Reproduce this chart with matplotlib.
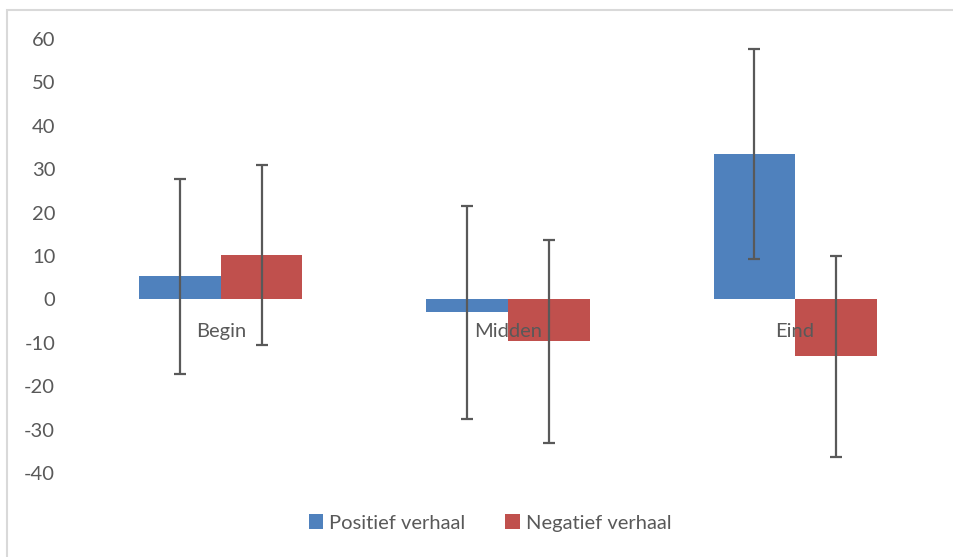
import matplotlib.pyplot as plt
import numpy as np
from matplotlib.patches import Rectangle

plt.rcParams['font.family'] = ['Lato', 'DejaVu Sans']
plt.rcParams['axes.unicode_minus'] = False

# data
categories = ['Begin', 'Midden', 'Eind']
positief = [5.3, -3.0, 33.6]
positief_err = [22.5, 24.5, 24.2]
negatief = [10.3, -9.7, -13.1]
negatief_err = [20.7, 23.3, 23.2]
series_names = ['Positief verhaal', 'Negatief verhaal']
yticks = [-40, -30, -20, -10, 0, 10, 20, 30, 40, 50, 60]

blue = '#4F81BD'
red = '#C0504D'
grey = '#595959'

fig = plt.figure(figsize=(9.54, 5.57), dpi=100)
ax = fig.add_axes([0.0812, 0.1508, 0.9026, 0.7792])

# chart border (partly outside the picture)
fig.patches.append(Rectangle((7 / 954, -0.1), 1.2, 1 - 10 / 557 + 0.1,
                             transform=fig.transFigure, fill=False,
                             edgecolor='#D9D9D9', linewidth=1.5))

x = np.arange(len(categories))
w = 0.284
ekw = dict(ecolor=grey, elinewidth=1.6, capsize=4.5, capthick=1.6)
ax.bar(x - w / 2, positief, w, color=blue, label=series_names[0], zorder=2)
ax.bar(x + w / 2, negatief, w, color=red, label=series_names[1], zorder=2)

# labels at the zero line
for i, c in enumerate(categories):
    ax.annotate(c, (x[i], 0), xytext=(0, -23), textcoords='offset points',
                ha='center', va='center', fontsize=14.5, color=grey, zorder=3)

ax.errorbar(x - w / 2, positief, yerr=positief_err, fmt='none', zorder=4, **ekw)
ax.errorbar(x + w / 2, negatief, yerr=negatief_err, fmt='none', zorder=4, **ekw)

ax.set_xlim(-0.5, 2.5)
ax.set_ylim(-40, 60)
ax.set_yticks(yticks)
ax.set_xticks([])
ax.tick_params(axis='y', length=0, labelsize=14.5, labelcolor=grey, pad=16)
for s in ax.spines.values():
    s.set_visible(False)

ax.legend(loc='center', bbox_to_anchor=(490 / 954, 1 - 523 / 557),
          bbox_transform=fig.transFigure, ncol=2, frameon=False,
          fontsize=14.5, labelcolor=grey, handlelength=0.7, handleheight=0.7,
          handletextpad=0.3, columnspacing=2.0)

fig.savefig('out.png', dpi=100)
